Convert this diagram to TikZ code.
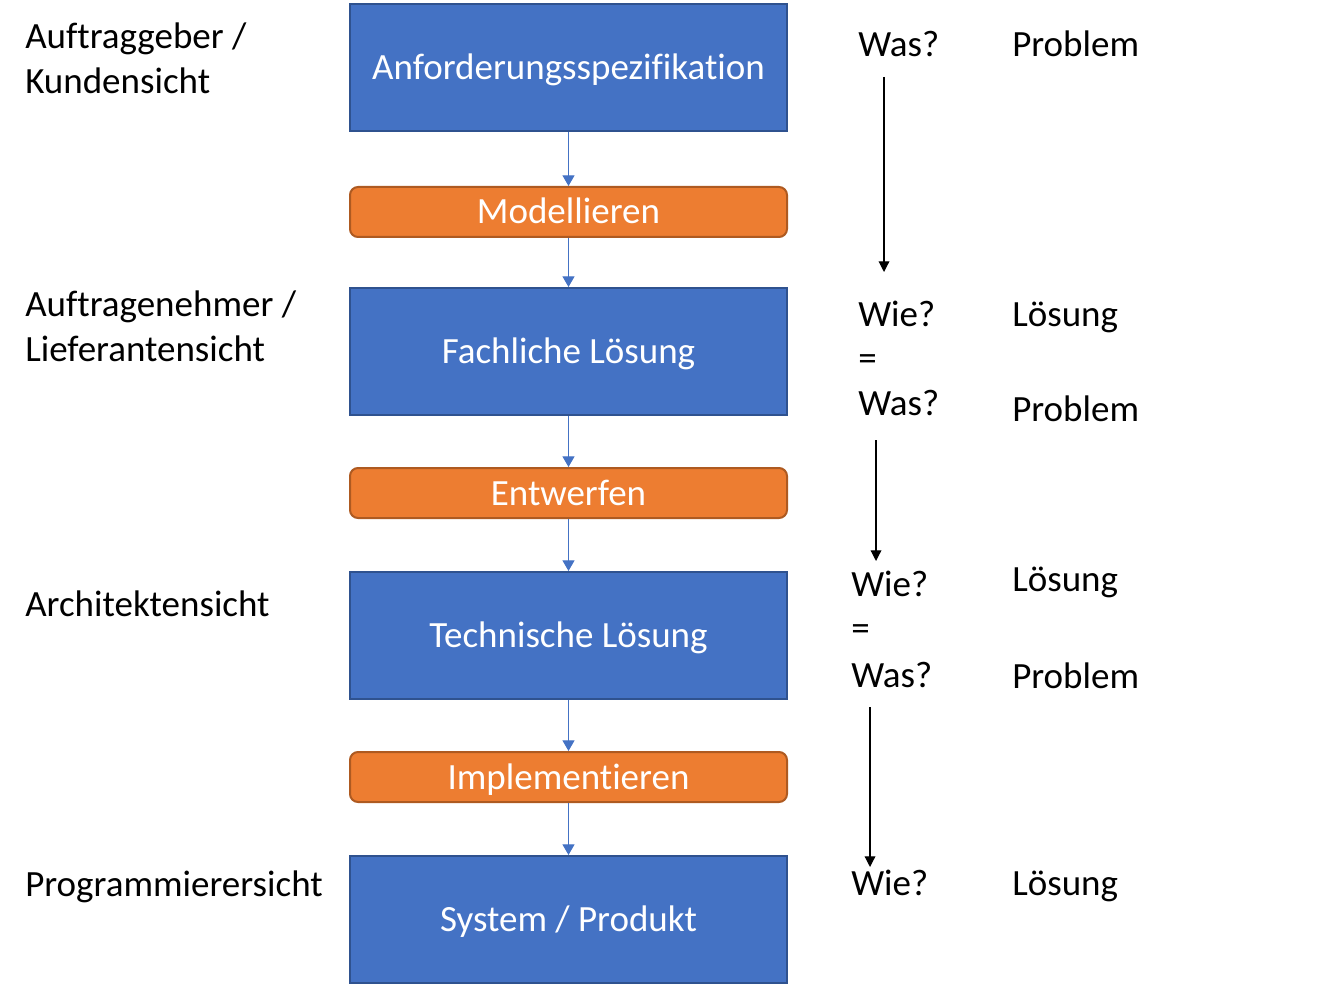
\documentclass[tikz,border=0pt]{standalone}
\usepackage{fontspec}
\setmainfont[Ligatures=NoCommon]{Carlito}
\usetikzlibrary{arrows.meta}
\definecolor{bfill}{HTML}{4472C4}
\definecolor{bdraw}{HTML}{2F528F}
\definecolor{ofill}{HTML}{ED7D31}
\definecolor{odraw}{HTML}{AE5A21}
\tikzset{
  px/.style={x=0.75pt,y=-0.75pt},
  bluebox/.style={draw=bdraw,fill=bfill,line width=1.5pt,text=white,inner sep=0pt,
    text height=18pt,text depth=0pt,
    minimum width=327.75pt,minimum height=95.25pt,font=\fontsize{27.75}{33}\selectfont},
  orangebox/.style={draw=odraw,fill=ofill,line width=1.5pt,text=white,inner sep=0pt,rounded corners=6pt,
    text height=18pt,text depth=0pt,
    minimum width=327.75pt,minimum height=37.5pt,font=\fontsize{27.75}{33}\selectfont},
  flow/.style={draw=bfill,line width=0.9pt,-{Triangle[width=9pt,length=8pt]}},
  down/.style={draw=black,line width=0.9pt,-{Triangle[width=8pt,length=8pt]}},
  lbl/.style={anchor=base west,inner sep=0pt,font=\fontsize{27.75}{33}\selectfont},
}
\begin{document}
\begin{tikzpicture}[px]
\useasboundingbox (0,0) rectangle (1338,984);
% boxes
\node[bluebox] (b1) at (568.5,67.5) {Anforderungsspezifikation};
\node[orangebox] (o1) at (568.5,212) {Modellieren};
\node[bluebox] (b2) at (568.5,351.5) {Fachliche Lösung};
\node[orangebox] (o2) at (568.5,493) {Entwerfen};
\node[bluebox] (b3) at (568.5,635.5) {Technische Lösung};
\node[orangebox] (o3) at (568.5,777) {Implementieren};
\node[bluebox] (b4) at (568.5,919.5) {System / Produkt};
\draw[flow] (b1) -- (o1);
\draw[flow] (o1) -- (b2);
\draw[flow] (b2) -- (o2);
\draw[flow] (o2) -- (b3);
\draw[flow] (b3) -- (o3);
\draw[flow] (o3) -- (b4);
% left labels
\node[lbl] (l1a) at (25,49) {Auftraggeber /};
\node[lbl] (l1b) at (25,94) {Kundensicht};
\node[lbl] (l2a) at (25,316) {Auftragenehmer /};
\node[lbl] (l2b) at (25,361) {Lieferantensicht};
\node[lbl] (l3) at (25,616) {Architektensicht};
\node[lbl] (l4) at (25,896) {Programmierersicht};
% right column
\node[lbl] (q1) at (858,57) {Was?};
\node[lbl] (p1) at (1012,57) {Problem};
\node[lbl] (w2) at (858,326) {Wie?};
\node[lbl] (s2) at (1012,326) {Lösung};
\node[lbl] (e2) at (858,370) {=};
\node[lbl] (q2) at (858,415) {Was?};
\node[lbl] (p2) at (1012,421) {Problem};
\node[lbl] (w3) at (851,596) {Wie?};
\node[lbl] (s3) at (1012,591) {Lösung};
\node[lbl] (e3) at (851,640) {=};
\node[lbl] (q3) at (851,687) {Was?};
\node[lbl] (p3) at (1012,688) {Problem};
\node[lbl] (w4) at (851,895) {Wie?};
\node[lbl] (s4) at (1012,895) {Lösung};
\coordinate (a1s) at (884,77);
\coordinate (a1e) at (884,272);
\coordinate (a2s) at (876,440);
\coordinate (a2e) at (876,561);
\coordinate (a3s) at (870,707);
\coordinate (a3e) at (870,867);
\draw[down] (a1s) -- (a1e);
\draw[down] (a2s) -- (a2e);
\draw[down] (a3s) -- (a3e);
\end{tikzpicture}
\end{document}
